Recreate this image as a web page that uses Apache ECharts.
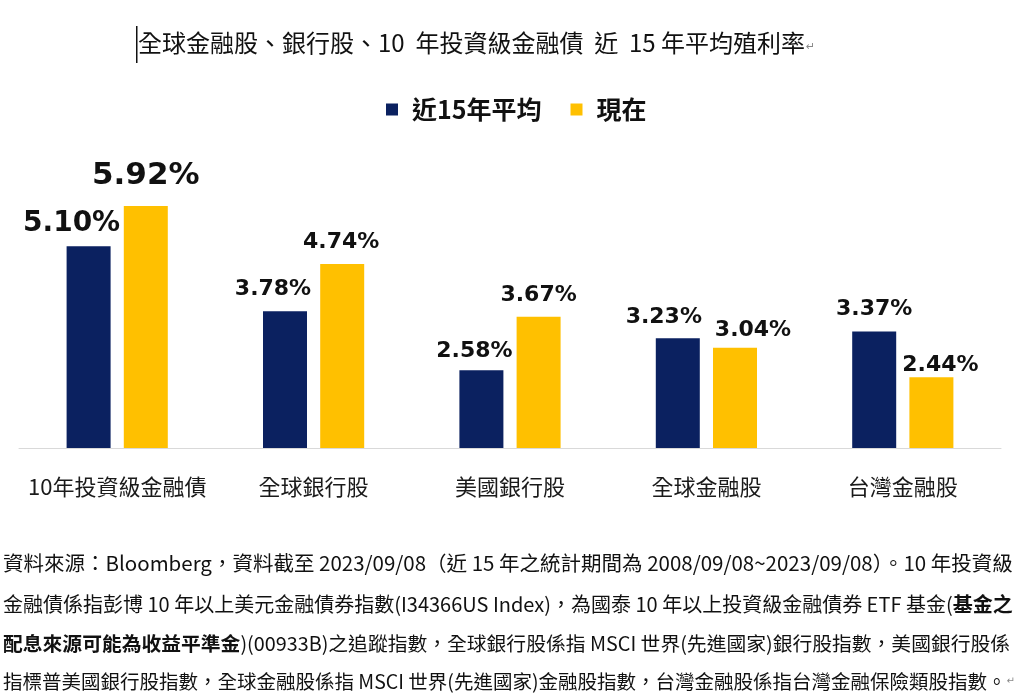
<!DOCTYPE html>
<html>
<head>
<meta charset="utf-8">
<script src="https://cdn.jsdelivr.net/npm/echarts@6/dist/echarts.min.js"></script>
<style>
html,body{margin:0;padding:0;background:#fff;}
#chart{width:1024px;height:695px;}
</style>
</head>
<body>
<div id="chart"></div>
<script>
// ---- data ----
const categories = ['10年投資級金融債', '全球銀行股', '美國銀行股', '全球金融股', '台灣金融股'];
const seriesNames = ['近15年平均', '現在'];
const avg15 = [5.10, 3.78, 2.58, 3.23, 3.37];
const current = [5.92, 4.74, 3.67, 3.04, 2.44];
const titleText = '全球金融股、銀行股、10  年投資級金融債  近  15 年平均殖利率';
const footLines = [
  [['n', '資料來源：Bloomberg，資料截至 2023/09/08（近 15 年之統計期間為 2008/09/08~2023/09/08）。10 年投資級']],
  [['n', '金融債係指彭博 10 年以上美元金融債券指數(I34366US Index)，為國泰 10 年以上投資級金融債券 ETF 基金('], ['b', '基金之']],
  [['b', '配息來源可能為收益平準金'], ['n', ')(00933B)之追蹤指數，全球銀行股係指 MSCI 世界(先進國家)銀行股指數，美國銀行股係']],
  [['n', '指標普美國銀行股指數，全球金融股係指 MSCI 世界(先進國家)金融股指數，台灣金融股係指台灣金融保險類股指數。'], ['r', '↵']]
];

// ---- styling / layout ----
const NAVY = '#0b2160';
const GOLD = '#ffc000';
const CJK = '"Noto Sans CJK TC", "Noto Sans CJK SC", sans-serif';
const NUM = '"DejaVu Sans", "Liberation Sans", sans-serif';

function buildData(values, shifts, big) {
  return values.map((v, i) => ({
    value: v,
    label: {
      offset: [shifts[i][0], 0],
      distance: shifts[i][1] - 5,
      fontSize: big[i] || 22
    }
  }));
}
const avgShift = [[-17, 14], [-12, 16], [-7, 13], [-14, 15], [0, 16]];
const curShift = [[0, 19], [-1, 16], [0, 15], [18, 11], [9, 6]];

const chart = echarts.init(document.getElementById('chart'), null, {renderer: 'canvas'});

const labelBase = {
  show: true,
  position: 'top',
  fontFamily: NUM,
  fontWeight: 'bold',
  color: '#111',
  formatter: p => p.value.toFixed(2) + '%'
};

const graphics = [
  {
    type: 'text', left: 138, top: 31,
    style: {
      text: '{t|' + titleText + '}{r|↵}',
      rich: {
        t: {fontFamily: CJK, fontSize: 24, fill: '#111'},
        r: {fontFamily: NUM, fontSize: 11, fill: '#888', padding: [8, 0, 0, 1]}
      }
    }
  },
  {
    type: 'rect', shape: {x: 136, y: 26, width: 1.5, height: 37},
    style: {fill: '#111'}
  }
];
const lineY = [553, 594, 634, 672];
const lineSize = [20.5, 20, 19.8, 19.5];
footLines.forEach((parts, i) => {
  graphics.push({
    type: 'text', left: 3, top: lineY[i],
    style: {
      text: parts.map(p => '{' + p[0] + '|' + p[1] + '}').join(''),
      rich: {
        n: {fontFamily: CJK, fontSize: lineSize[i], fill: '#111'},
        b: {fontFamily: CJK, fontSize: lineSize[i], fill: '#111', fontWeight: 'bold'},
        r: {fontFamily: NUM, fontSize: 10, fill: '#888'}
      }
    }
  });
});

const option = {
  backgroundColor: '#ffffff',
  animation: false,
  legend: {
    left: 381, top: 92,
    itemWidth: 12, itemHeight: 12, itemGap: 29,
    icon: 'rect',
    textStyle: {fontFamily: CJK, fontSize: 25, fontWeight: 'bold', color: '#111', padding: [0, 0, 0, 9]},
    data: seriesNames
  },
  grid: {left: 19, right: 23, top: 202, bottom: 247, containLabel: false},
  xAxis: {
    type: 'category',
    data: categories,
    axisLine: {show: true, lineStyle: {color: '#d9d9d9', width: 1}},
    axisTick: {show: false},
    axisLabel: {fontFamily: CJK, fontSize: 22, color: '#1a1a1a', margin: 28, interval: 0}
  },
  yAxis: {
    type: 'value', min: 1, max: 6, show: false,
    splitLine: {show: false}
  },
  graphic: graphics,
  series: [
    {
      name: seriesNames[0], type: 'bar',
      barWidth: 44, barGap: '30%',
      itemStyle: {color: NAVY},
      label: labelBase,
      data: buildData(avg15, avgShift, {0: 28})
    },
    {
      name: seriesNames[1], type: 'bar',
      barWidth: 44, barGap: '30%',
      itemStyle: {color: GOLD},
      label: labelBase,
      data: buildData(current, curShift, {0: 31})
    }
  ]
};
chart.setOption(option);
</script>
</body>
</html>
